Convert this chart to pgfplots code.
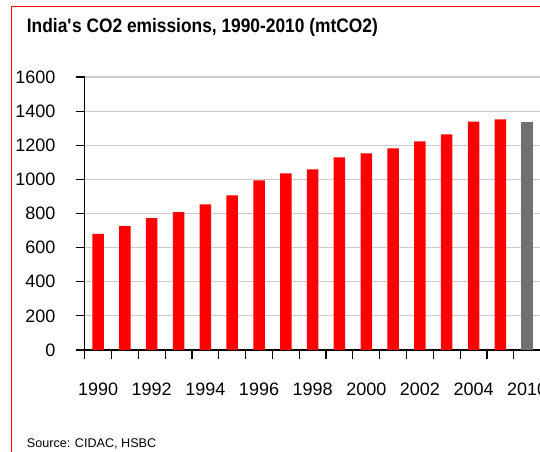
\documentclass[border=0pt]{standalone}
\usepackage{pgfplots}
\pgfplotsset{compat=1.18}
\usepackage{fontspec}
\setmainfont{Liberation Sans}
\newfontfamily\titlefont{Liberation Sans}[FakeStretch=0.89]
\definecolor{bargray}{HTML}{707070}
\begin{document}
\begin{tikzpicture}
\useasboundingbox (0bp,0bp) rectangle (540bp,452bp);
\clip (0bp,0bp) rectangle (540bp,452bp);
\fill[white] (0bp,0bp) rectangle (540bp,452bp);
\draw[red, line width=1.8bp] (11.5bp,-10bp) -- (11.5bp,445.5bp) -- (560bp,445.5bp);
\node[anchor=base west, inner sep=0pt, font=\titlefont\bfseries\fontsize{19.5bp}{22bp}\selectfont] at (26.7bp,419.7bp) {India\textquotesingle s CO2 emissions, 1990-2010 (mtCO2)};
\node[anchor=base west, inner sep=0pt, font=\fontsize{12.6bp}{14bp}\selectfont] at (26.7bp,4.3bp) {Source: CIDAC, HSBC};
\begin{axis}[
  at={(84.7bp,102bp)}, anchor=south west, scale only axis,
  width=455.9bp, height=273bp,
  xmin=-0.5, xmax=16.5, ymin=0, ymax=1600,
  axis lines=left, axis line style={-, line width=1.3bp, black},
  ybar, bar width=11.5bp,
  ytick={0,200,...,1600},
  ymajorgrids, grid style={line width=1.2bp, color=gray!40},
  xtick={-0.5,0.5,...,16.5}, xticklabels={},
  extra x ticks={0,2,...,16},
  extra x tick labels={1990,1992,1994,1996,1998,2000,2002,2004,2010},
  extra x tick style={major tick length=0pt, grid=none},
  tick align=outside, major tick length=9bp,
  tick style={black, line width=1.2bp},
  scaled y ticks=false,
  /pgf/number format/assume math mode=true,
  /pgf/number format/1000 sep={},
  ticklabel style={font=\fontsize{18bp}{20bp}\selectfont, inner sep=0pt},
  yticklabel style={anchor=east, xshift=-20bp},
  xticklabel style={anchor=north, yshift=-33bp},
]
\addplot[fill=red, draw=none, bar shift=0pt] coordinates {
(0,680)(1,726)(2,773)(3,808)(4,854)(5,906)(6,994)(7,1035)(8,1058)
(9,1129)(10,1152)(11,1181)(12,1222)(13,1263)(14,1339)(15,1351)};
\addplot[fill=bargray, draw=none, bar shift=0pt] coordinates {(16,1339)};
\end{axis}
\end{tikzpicture}
\end{document}
